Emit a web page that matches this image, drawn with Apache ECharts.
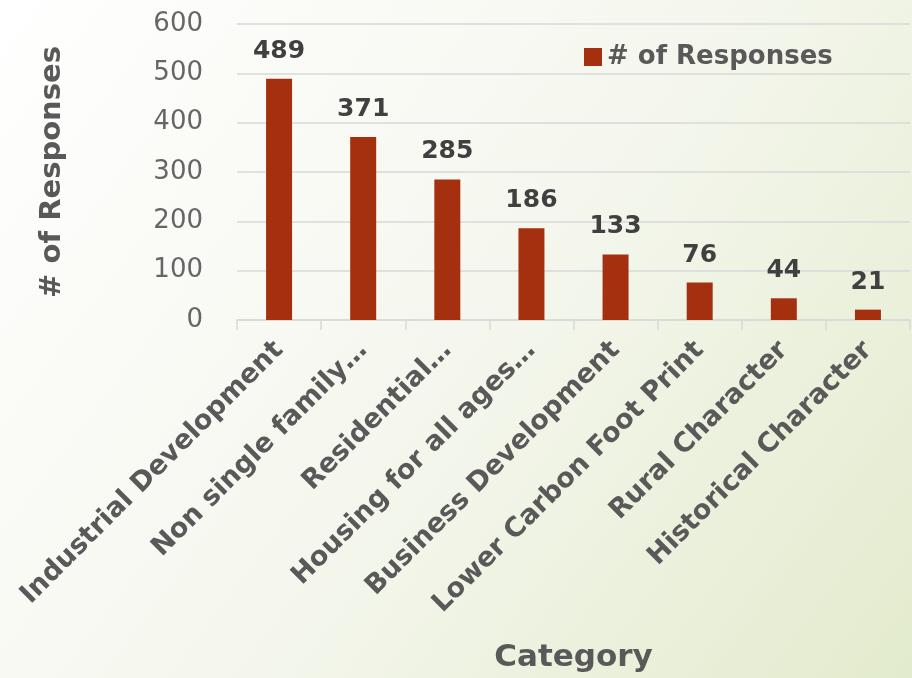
<!DOCTYPE html>
<html>
<head>
<meta charset="utf-8">
<style>html,body{margin:0;padding:0;}#c{width:912px;height:678px;}</style>
<script src="https://cdn.jsdelivr.net/npm/echarts@6/dist/echarts.min.js"></script>
</head>
<body>
<div id="c"></div>
<script>
const categories = ["Industrial Development","Non single family…","Residential…","Housing for all ages…","Business Development","Lower Carbon Foot Print","Rural Character","Historical Character"];
const responses = [489, 371, 285, 186, 133, 76, 44, 21];
const seriesName = "# of Responses";
const yMin = 0, yMax = 600, yStep = 100;

const chart = echarts.init(document.getElementById('c'));
const font = "DejaVu Sans";
chart.setOption({
  animation: false,
  backgroundColor: {
    type: 'linear', x: 0, y: 0, x2: 1, y2: 1,
    colorStops: [{offset: 0, color: '#ffffff'}, {offset: 0.5, color: '#f5f7ee'}, {offset: 1, color: '#e3ebcd'}]
  },
  textStyle: {fontFamily: font},
  grid: {left: 237, right: 2, top: 24, bottom: 358},
  legend: {
    data: [seriesName], left: 579, top: 39, itemWidth: 18, itemHeight: 18, itemGap: 8,
    icon: 'rect',
    textStyle: {fontFamily: font, fontWeight: 'bold', fontSize: 26, color: '#595959'}
  },
  xAxis: {
    type: 'category', data: categories,
    name: 'Category', nameLocation: 'middle', nameGap: 322,
    nameTextStyle: {fontFamily: font, fontWeight: 'bold', fontSize: 31, color: '#595959'},
    axisLine: {lineStyle: {color: '#d9d9d9', width: 1.5}},
    axisTick: {show: true, length: 10, lineStyle: {color: '#d9d9d9', width: 1.5}},
    axisLabel: {rotate: 45, interval: 0, margin: 26, fontFamily: font, fontWeight: 'bold', fontSize: 27, color: '#595959'}
  },
  yAxis: {
    type: 'value', min: yMin, max: yMax, interval: yStep,
    name: seriesName, nameLocation: 'middle', nameGap: 170,
    nameTextStyle: {fontFamily: font, fontWeight: 'bold', fontSize: 29, color: '#595959'},
    axisLine: {show: false}, axisTick: {show: false},
    splitLine: {lineStyle: {color: '#d9d9d9', width: 1.5}},
    axisLabel: {margin: 34, fontFamily: font, fontWeight: 'normal', fontSize: 26, color: '#666666'}
  },
  series: [{
    name: seriesName, type: 'bar', data: responses, barWidth: 26,
    itemStyle: {color: '#a5300f'},
    label: {show: true, position: 'top', distance: 15, fontFamily: font, fontWeight: 'bold', fontSize: 25, color: '#404040'}
  }]
});
</script>
</body>
</html>
